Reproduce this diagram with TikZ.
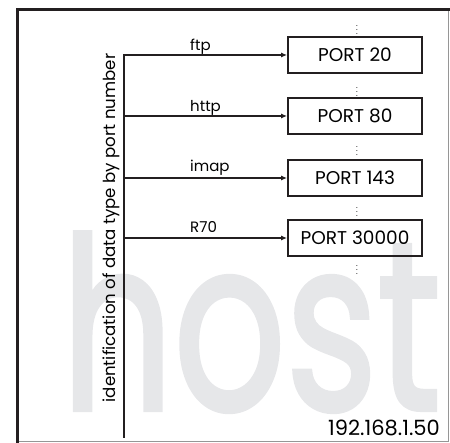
\documentclass[tikz,border=0pt]{standalone}
\usepackage{fontspec}
\setmainfont{Poppins}
\newfontfamily\hostfont[FakeBold=2]{Poppins}
\usetikzlibrary{arrows.meta,positioning}
\definecolor{framegray}{RGB}{150,150,150}
\definecolor{hostgray}{RGB}{230,231,233}
\definecolor{inkblack}{RGB}{35,31,32}
\tikzset{portbox/.style={draw=inkblack,line width=1.8pt,minimum width=134pt,minimum height=36pt,inner sep=0pt,font=\fontsize{18.5}{18.5}\selectfont},link/.style={-{Latex[length=6pt,width=5pt]},line width=1.5pt,draw=inkblack},proto/.style={anchor=base west,inner sep=0pt,font=\fontsize{15}{15}\selectfont},ellip/.style={inner sep=0pt,font=\fontsize{8}{8}\selectfont}}

\begin{document}
\begin{tikzpicture}[x=1pt,y=-1pt]
\useasboundingbox (0,0) rectangle (450,443);
% background word
\node[anchor=south west,inner sep=0pt,text=hostgray] (host) at (61,412) {\resizebox{380pt}{177pt}{\hostfont host}};
% frame
\draw[framegray,line width=1pt] (448,9) -- (448,442) -- (19,442);
\draw[inkblack,line width=3pt] (17.5,443) -- (17.5,9.5) -- (450,9.5);
% ports
\node[portbox] (p20) at (355,55) {PORT 20};
\node[portbox] (p80) at (355,116) {PORT 80};
\node[portbox] (p143) at (355,178) {PORT 143};
\node[portbox] (p30000) at (355,238) {PORT 30000};
\node[ellip] (d0) at (357,27) {$\vdots$};
\node[ellip] (d1) at (357,89) {$\vdots$};
\node[ellip] (d2) at (357,148) {$\vdots$};
\node[ellip] (d3) at (357,209) {$\vdots$};
\node[ellip] (d4) at (357,267) {$\vdots$};
% trunk and branches
\coordinate (trunk) at (124,438);
\draw[link] (trunk) |- (p20);
\draw[link] (trunk |- p80) -- (p80);
\draw[link] (trunk |- p143) -- (p143);
\draw[link] (trunk |- p30000) -- (p30000);
\node[proto] (lftp) at (190,51) {ftp};
\node[proto] (lhttp) at (190,112) {http};
\node[proto] (limap) at (190,172) {imap};
\node[proto] (lr70) at (190,233) {R70};
\node[rotate=90,anchor=base,inner sep=0pt,font=\fontsize{16.6}{16.6}\selectfont] (ident) at (115.5,228) {identification of data type by port number};
\node[anchor=base east,inner sep=0pt,font=\fontsize{21}{21}\selectfont] (ip) at (440,436) {192.168.1.50};
\end{tikzpicture}
\end{document}
